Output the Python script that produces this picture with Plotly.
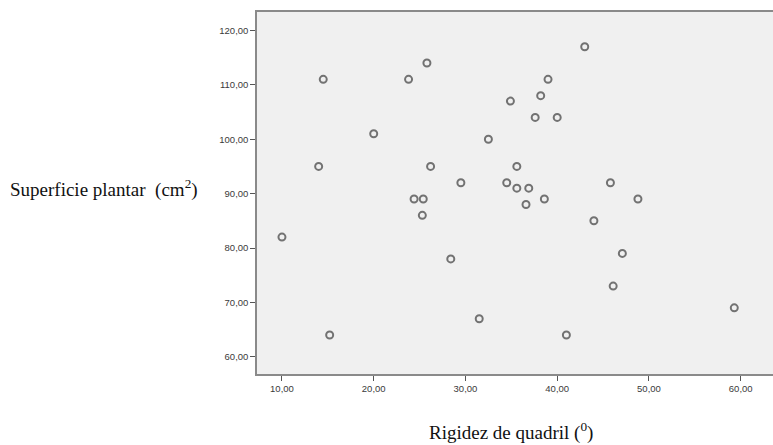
import plotly.graph_objects as go

rigidez = [14.5, 14.0, 20.0, 23.8, 25.8, 26.2, 32.5, 29.5, 24.4, 25.4,
           10.0, 15.2, 25.3, 28.4, 31.5,
           43.0, 39.0, 38.2, 34.9, 37.6, 40.0, 35.6, 34.5, 35.6, 36.9,
           45.8, 36.6, 38.6, 48.8,
           44.0, 47.1, 46.1, 59.3, 41.0]
superficie = [111, 95, 101, 111, 114, 95, 100, 92, 89, 89,
              82, 64, 86, 78, 67,
              117, 111, 108, 107, 104, 104, 95, 92, 91, 91,
              92, 88, 89, 89,
              85, 79, 73, 69, 64]

x_ticks = [10, 20, 30, 40, 50, 60]
x_ticktext = ["10,00", "20,00", "30,00", "40,00", "50,00", "60,00"]
y_ticks = [60, 70, 80, 90, 100, 110, 120]
y_ticktext = ["60,00", "70,00", "80,00", "90,00", "100,00", "110,00", "120,00"]

fig = go.Figure()
fig.add_trace(go.Scatter(
    x=rigidez, y=superficie, mode="markers",
    marker=dict(symbol="circle-open", size=7, color="#727272",
                line=dict(width=2, color="#727272")),
    hoverinfo="x+y", showlegend=False))

tickfont = dict(family="Liberation Sans, Arial, sans-serif", size=9.5, color="#3a3a3a")
serif = "Liberation Serif, DejaVu Serif, serif"

fig.update_layout(
    width=773, height=445,
    margin=dict(l=257, r=0, t=12, b=71),
    paper_bgcolor="white", plot_bgcolor="#f0f0f0",
    xaxis=dict(range=[7.28, 63.52], tickvals=x_ticks, ticktext=x_ticktext,
               showgrid=False, zeroline=False, showline=True, mirror=True,
               linecolor="#8a8a8a", linewidth=1.5,
               ticks="outside", ticklen=5, tickcolor="#555", tickwidth=1,
               tickfont=tickfont),
    yaxis=dict(range=[56.84, 123.38], tickvals=y_ticks, ticktext=y_ticktext,
               showgrid=False, zeroline=False, showline=True,
               linecolor="#8a8a8a", linewidth=1.5,
               ticks="outside", ticklen=5, tickcolor="#555", tickwidth=1,
               tickfont=tickfont),
    annotations=[
        dict(text="Superficie plantar  (cm<sup>2</sup>)", xref="paper", yref="paper",
             x=-0.483, y=0.512, xanchor="left", yanchor="middle", showarrow=False,
             font=dict(family=serif, size=19, color="#111")),
        dict(text="Rigidez de quadril (<sup>0</sup>)", xref="paper", yref="paper",
             x=(511 - 257) / 516, y=-(432 - 374.5) / 362.5, xanchor="center", yanchor="middle",
             showarrow=False,
             font=dict(family=serif, size=19, color="#111")),
    ],
)

fig.write_html("out.html", config={"displayModeBar": False},
               post_script="document.body.style.margin='0';document.body.style.overflow='hidden';")
